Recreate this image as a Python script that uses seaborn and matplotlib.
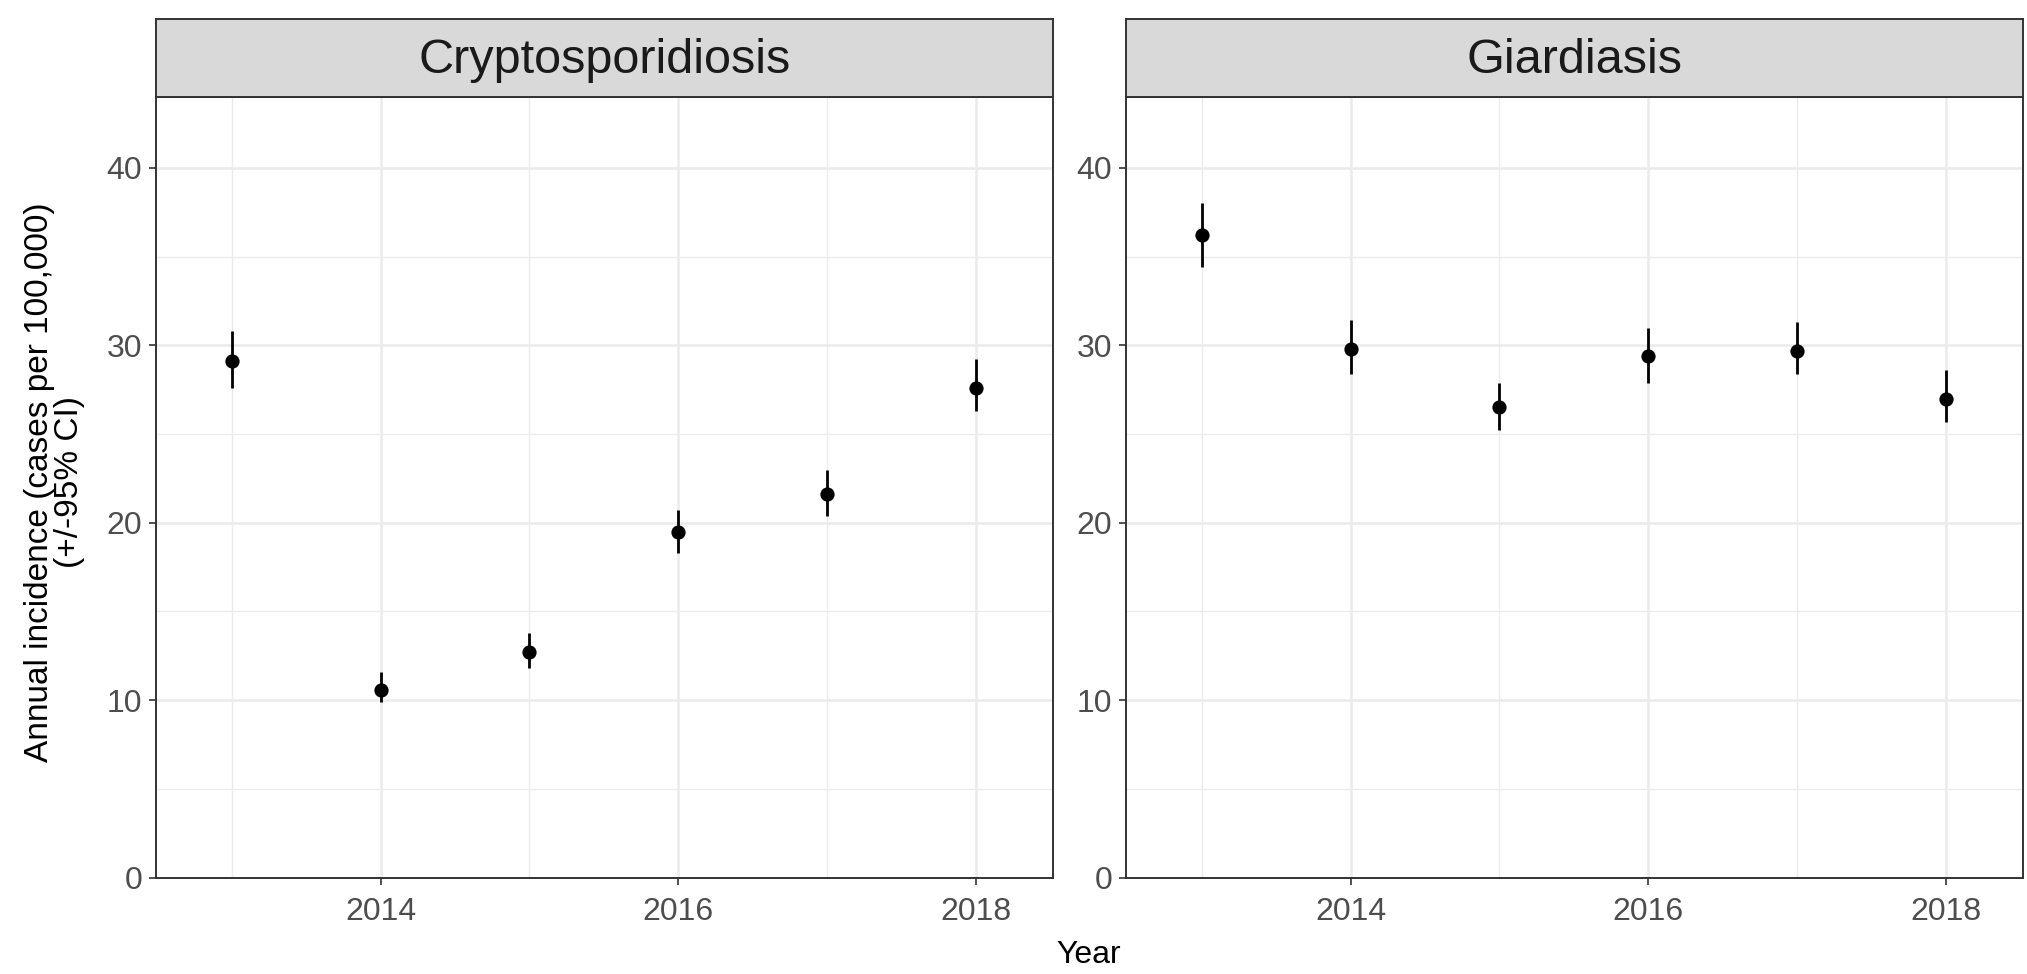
"""Annual incidence of cryptosporidiosis and giardiasis, faceted point + CI plot"""
import matplotlib
matplotlib.use('Agg')
import matplotlib.pyplot as plt
import seaborn as sns
import numpy as np
import pandas as pd

# data
years = [2013, 2014, 2015, 2016, 2017, 2018]
diseases = ['Cryptosporidiosis', 'Giardiasis']
crypto_rate = [29.1, 10.6, 12.7, 19.5, 21.6, 27.6]
crypto_low = [27.6, 9.9, 11.8, 18.3, 20.4, 26.3]
crypto_high = [30.8, 11.6, 13.8, 20.7, 23.0, 29.2]
giardia_rate = [36.2, 29.8, 26.5, 29.4, 29.7, 27.0]
giardia_low = [34.4, 28.4, 25.2, 27.9, 28.4, 25.7]
giardia_high = [38.0, 31.4, 27.9, 31.0, 31.3, 28.6]

df = pd.DataFrame({
    'Year': years * 2,
    'disease': [diseases[0]] * 6 + [diseases[1]] * 6,
    'rate': crypto_rate + giardia_rate,
    'low': crypto_low + giardia_low,
    'high': crypto_high + giardia_high,
})

sns.set_theme(style='white')
plt.rcParams['font.family'] = ['Liberation Sans', 'DejaVu Sans']

fig = plt.figure(figsize=(20.27, 9.74), dpi=100)

panel_left = [0.077, 0.5555]
panel_w = 0.4425
panel_bottom = 0.0990
panel_h = 0.8015
strip_h = 0.080

grid_col = '#EBEBEB'
border_col = '#333333'

for i, name in enumerate(diseases):
    ax = fig.add_axes([panel_left[i], panel_bottom, panel_w, panel_h])
    sub = df[df['disease'] == name]

    ax.errorbar(sub['Year'], sub['rate'],
                yerr=[sub['rate'] - sub['low'], sub['high'] - sub['rate']],
                fmt='none', ecolor='black', elinewidth=2.0, capsize=0, zorder=3)
    sns.scatterplot(data=sub, x='Year', y='rate', ax=ax, color='black',
                    s=105, edgecolor='black', linewidth=0, zorder=4, legend=False)

    ax.set_xlim(2012.49, 2018.52)
    ax.set_ylim(0, 44.0)
    ax.set_xticks([2014, 2016, 2018])
    ax.set_xticks([2013, 2015, 2017], minor=True)
    ax.set_yticks([0, 10, 20, 30, 40])
    ax.set_yticks([5, 15, 25, 35], minor=True)
    ax.grid(which='major', color=grid_col, linewidth=1.8)
    ax.grid(which='minor', color=grid_col, linewidth=1.0)
    ax.set_axisbelow(True)
    ax.tick_params(axis='both', which='major', labelsize=23, labelcolor='#4D4D4D',
                   length=5, width=1.2, color=border_col, direction='out',
                   left=True, bottom=True)
    ax.tick_params(axis='x', which='major', pad=9)
    ax.tick_params(axis='y', which='major', pad=5)
    ax.tick_params(which='minor', length=0)
    for s in ax.spines.values():
        s.set_color(border_col)
        s.set_linewidth(1.4)
    ax.set_xlabel('')
    ax.set_ylabel('')

    # facet strip
    sax = fig.add_axes([panel_left[i], panel_bottom + panel_h, panel_w, strip_h])
    sax.set_facecolor('#D9D9D9')
    sax.set_xticks([])
    sax.set_yticks([])
    for s in sax.spines.values():
        s.set_color(border_col)
        s.set_linewidth(1.4)
    sax.text(0.5, 0.47, name, transform=sax.transAxes, ha='center', va='center',
             fontsize=35, color='#1A1A1A')

fig.text(0.537, 0.019, 'Year', ha='center', va='center', fontsize=23, color='black')
fig.text(0.027, 0.505, 'Annual incidence (cases per 100,000)\n(+/-95% CI)',
         ha='center', va='center', rotation=90, fontsize=24, color='black',
         linespacing=0.95)

fig.savefig('out.png', dpi=100)
